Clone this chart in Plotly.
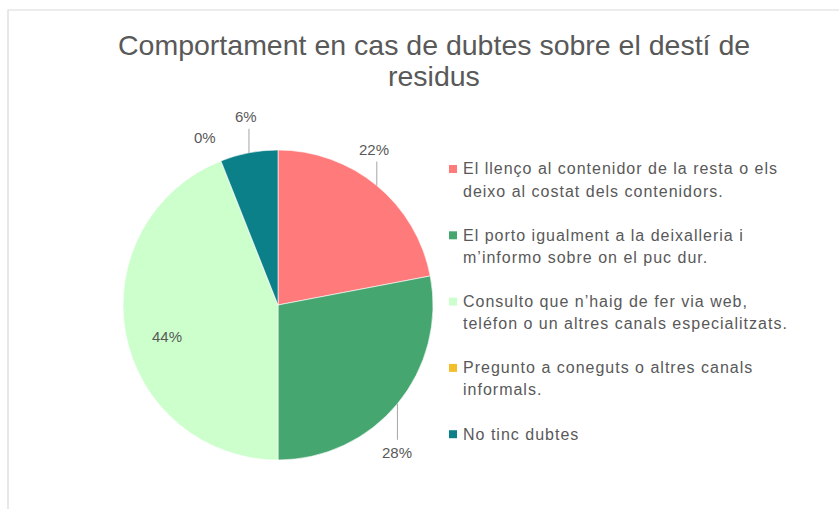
import math
import plotly.graph_objects as go

# ---- data -------------------------------------------------------------
title_lines = ["Comportament en cas de dubtes sobre el destí de", "residus"]
categories = [
    "El llenço al contenidor de la resta o els deixo al costat dels contenidors.",
    "El porto igualment a la deixalleria i m’informo sobre on el puc dur.",
    "Consulto que n’haig de fer via web, teléfon o un altres canals especialitzats.",
    "Pregunto a coneguts o altres canals informals.",
    "No tinc dubtes",
]
legend_lines = [
    ["El llenço al contenidor de la resta o els", "deixo al costat dels contenidors."],
    ["El porto igualment a la deixalleria i", "m’informo sobre on el puc dur."],
    ["Consulto que n’haig de fer via web,", "teléfon o un altres canals especialitzats."],
    ["Pregunto a coneguts o altres canals", "informals."],
    ["No tinc dubtes"],
]
values = [22, 28, 44, 0, 6]
colors = ["#FF7B7B", "#46A670", "#CCFFCC", "#F2BF2A", "#0C8088"]

# ---- layout geometry (pixels) ------------------------------------------
W, H = 839, 509
CX, CY, R = 278, 305, 155          # pie centre and radius
TEXT = "#595959"
FONT = "Liberation Sans, Arial, sans-serif"


def px(x):
    return x / W


def py(y):
    return 1 - y / H


fig = go.Figure(
    go.Pie(
        labels=categories,
        values=values,
        marker=dict(colors=colors, line=dict(color="white", width=0.6)),
        sort=False,
        direction="clockwise",
        rotation=0,
        textinfo="none",
        hoverinfo="label+percent",
        showlegend=False,
        domain=dict(x=[px(CX - R), px(CX + R)], y=[py(CY + R), py(CY - R)]),
    )
)

shapes = []
annotations = []

# chart frame (top and left edges visible)
shapes.append(dict(type="rect", xref="paper", yref="paper",
                   x0=px(8), x1=1.02, y0=-0.02, y1=py(10),
                   line=dict(color="#D9D9D9", width=1.2), layer="below"))

# title
for i, line in enumerate(title_lines):
    annotations.append(dict(
        text=line, xref="paper", yref="paper", x=px(434), y=py(45 + 31 * i),
        xanchor="center", yanchor="middle", showarrow=False,
        font=dict(family=FONT, size=28.5, color=TEXT)))

# percentage labels, placed from the slice angles
total = sum(values)
cum = 0.0
LEAD_UP, LEAD_DOWN = 24, 36
for v in values:
    share = v / total
    mid = (cum + share / 2) * 2 * math.pi
    cum += share
    sx, sy = math.sin(mid), -math.cos(mid)
    label = f"{share:.0%}"
    lf = dict(family=FONT, size=15, color=TEXT)
    if share >= 0.3:
        x, y = CX + 0.74 * R * sx + 2, CY + 0.74 * R * sy + 10
        annotations.append(dict(text=label, xref="paper", yref="paper",
                                x=px(x), y=py(y), showarrow=False,
                                xanchor="center", yanchor="middle", font=lf))
    elif v == 0:
        x, y = CX + 1.19 * R * sx - 5, CY + 1.19 * R * sy + 4
        annotations.append(dict(text=label, xref="paper", yref="paper",
                                x=px(x), y=py(y), showarrow=False,
                                xanchor="center", yanchor="middle", font=lf))
    else:
        ex, ey = CX + R * sx, CY + R * sy
        up = sy < 0
        ly = ey - LEAD_UP if up else ey + LEAD_DOWN
        shapes.append(dict(type="line", xref="paper", yref="paper",
                           x0=px(ex), y0=py(ey), x1=px(ex), y1=py(ly),
                           line=dict(color="#A6A6A6", width=1)))
        annotations.append(dict(text=label, xref="paper", yref="paper",
                                x=px(ex - 3 if up else ex), y=py(ly - 2 if up else ly + 2),
                                showarrow=False, xanchor="center",
                                yanchor="bottom" if up else "top", font=lf))

# legend: colour key and wrapped labels
LX, LY0, LSTEP, LLINE = 461, 169, 66.3, 22
for i, (lines, col) in enumerate(zip(legend_lines, colors)):
    y0 = LY0 + i * LSTEP
    shapes.append(dict(type="rect", xref="paper", yref="paper",
                       x0=px(LX - 12), x1=px(LX - 4), y0=py(y0 + 4), y1=py(y0 - 4),
                       fillcolor=col, line=dict(width=0)))
    for j, t in enumerate(lines):
        annotations.append(dict(
            text=f'<span style="letter-spacing:1px">{t}</span>',
            xref="paper", yref="paper", x=px(LX), y=py(y0 + j * LLINE),
            xanchor="left", yanchor="middle", showarrow=False,
            font=dict(family=FONT, size=16, color=TEXT)))

fig.update_layout(
    width=W, height=H,
    margin=dict(l=0, r=0, t=0, b=0),
    paper_bgcolor="white", plot_bgcolor="white",
    shapes=shapes, annotations=annotations,
    showlegend=False,
)

fig.write_html("out.html")
